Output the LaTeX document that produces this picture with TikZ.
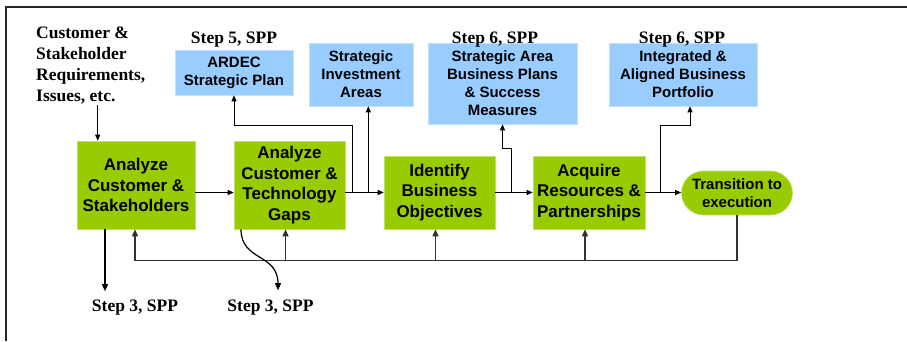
\documentclass[tikz,border=0pt]{standalone}
\usepackage{fontspec}
\setmainfont{Liberation Serif}
\setsansfont{Liberation Sans}
\usetikzlibrary{arrows.meta,calc}
\definecolor{leafGreen}{HTML}{99CC00}
\definecolor{skyBlue}{HTML}{99CCFF}
\colorlet{feedGray}{black!80}
\tikzset{
  procBox/.style={fill=leafGreen,draw=leafGreen!60!white,line width=.6pt,inner sep=0pt,align=center,
    font=\sffamily\bfseries\fontsize{17}{20.5}\selectfont},
  outBox/.style={fill=skyBlue,draw=skyBlue!60!white,line width=.6pt,inner sep=0pt,align=center,
    font=\sffamily\bfseries\fontsize{15}{18}\selectfont},
  sppNote/.style={font=\rmfamily\bfseries\fontsize{17.5}{21}\selectfont,inner sep=0pt},
  flow/.style={line width=.9pt,-{Triangle[length=6pt,width=5pt]}},
  feed/.style={feedGray,line width=1.4pt},
  feedTip/.style={feed,-{Triangle[length=7pt,width=6pt]}},
}
\NewDocumentCommand\StepNote{mmmm}%
{%
\node[sppNote,anchor=base] (#1) at (#2,#3) {Step #4, SPP};%
}

\begin{document}
\begin{tikzpicture}[x=1pt,y=-1pt]
\useasboundingbox (0,0) rectangle (907,341);
\draw[line width=1.6pt,black!85] (6,341) -- (6,7) -- (907,7);

\node[procBox,minimum width=118,minimum height=88] (box1) at (136,185) {Analyze\\Customer \&\\Stakeholders};
\node[procBox,minimum width=111,minimum height=88] (box2) at (289.5,185) {Analyze\\Customer \&\\Technology\\Gaps};
\node[procBox,minimum width=111,minimum height=73] (box3) at (439.5,192.5) {Identify\\Business\\Objectives};
\node[procBox,minimum width=112,minimum height=73] (box4) at (589,192.5) {Acquire\\Resources \&\\Partnerships};
\node[procBox,minimum width=111,minimum height=44,rounded corners=22pt,
  font=\sffamily\bfseries\fontsize{15}{17.5}\selectfont] (trans) at (737,193) {Transition to\\execution};

\node[outBox,minimum width=118,minimum height=45] (ardec) at (234,72.5) {ARDEC\\Strategic Plan};
\node[outBox,minimum width=104,minimum height=63] (sia) at (361,74.5) {Strategic\\Investment\\Areas};
\node[outBox,minimum width=149,minimum height=81] (sabp) at (502.5,83.5) {Strategic Area\\Business Plans\\\& Success\\Measures};
\node[outBox,minimum width=148,minimum height=63] (iabp) at (683,74.5) {Integrated \&\\Aligned Business\\Portfolio};

\node[sppNote,anchor=north west,align=left] (req) at (36,27) {Customer \&\\Stakeholder\\Requirements,\\Issues, etc.};
\StepNote{s5}{234}{43}{5}
\StepNote{s6a}{495}{43}{6}
\StepNote{s6b}{682}{43}{6}
\StepNote{s3a}{135}{311}{3}
\StepNote{s3b}{270.5}{311}{3}

\coordinate (reqIn) at ($(box1.north west)+(21,0)$);
\draw[flow] (req.south -| reqIn) -- (reqIn);

\draw[flow] (box1.east |- box3.center) -- (box2.west |- box3.center);
\draw[flow] (box2.east |- box3.center) -- (box3.west);
\draw[flow] (box3.east) -- (box4.west);
\draw[flow] (box4.east) -- (trans.west |- box4.east);

\coordinate (jArdec) at ($(box2.east |- box3.center)+(7,0)$);
\coordinate (jSia) at ($(box2.east |- box3.center)+(23,0)$);
\coordinate (jSabp) at ($(box3.east)+(16,0)$);
\coordinate (jIabp) at ($(box4.east)+(15,0)$);
\draw[flow] (jArdec) |- ($(ardec.south)+(0,30)$) -- (ardec.south);
\draw[flow] (jSia) -- (jSia |- sia.south);
\draw[flow] (jSabp) |- ($(sabp.south)+(0,24)$) -- (sabp.south);
\draw[flow] (jIabp) |- ($(iabp.south)+(7,19)$) -- ($(iabp.south)+(7,0)$);

\draw[feedTip] (trans.south) |- ($(box1.south)+(-1,31)$) -- ($(box1.south)+(-1,0)$);
\foreach \b in {box2,box3,box4}
{
	\draw[feedTip] ($(\b.south)+(-4,31)$) -- ($(\b.south)+(-4,0)$);
}

\draw[feedTip,black] ($(box1.south)+(-31,0)$) -- ($(s3a.north)+(-30,-8)$);
\draw[feedTip,black,line width=1.2pt] ($(box2.south)+(-48.5,0)$) .. controls +(0,32) and +(0,-37) .. ($(s3b.north)+(7.5,-9)$);
\end{tikzpicture}
\end{document}
